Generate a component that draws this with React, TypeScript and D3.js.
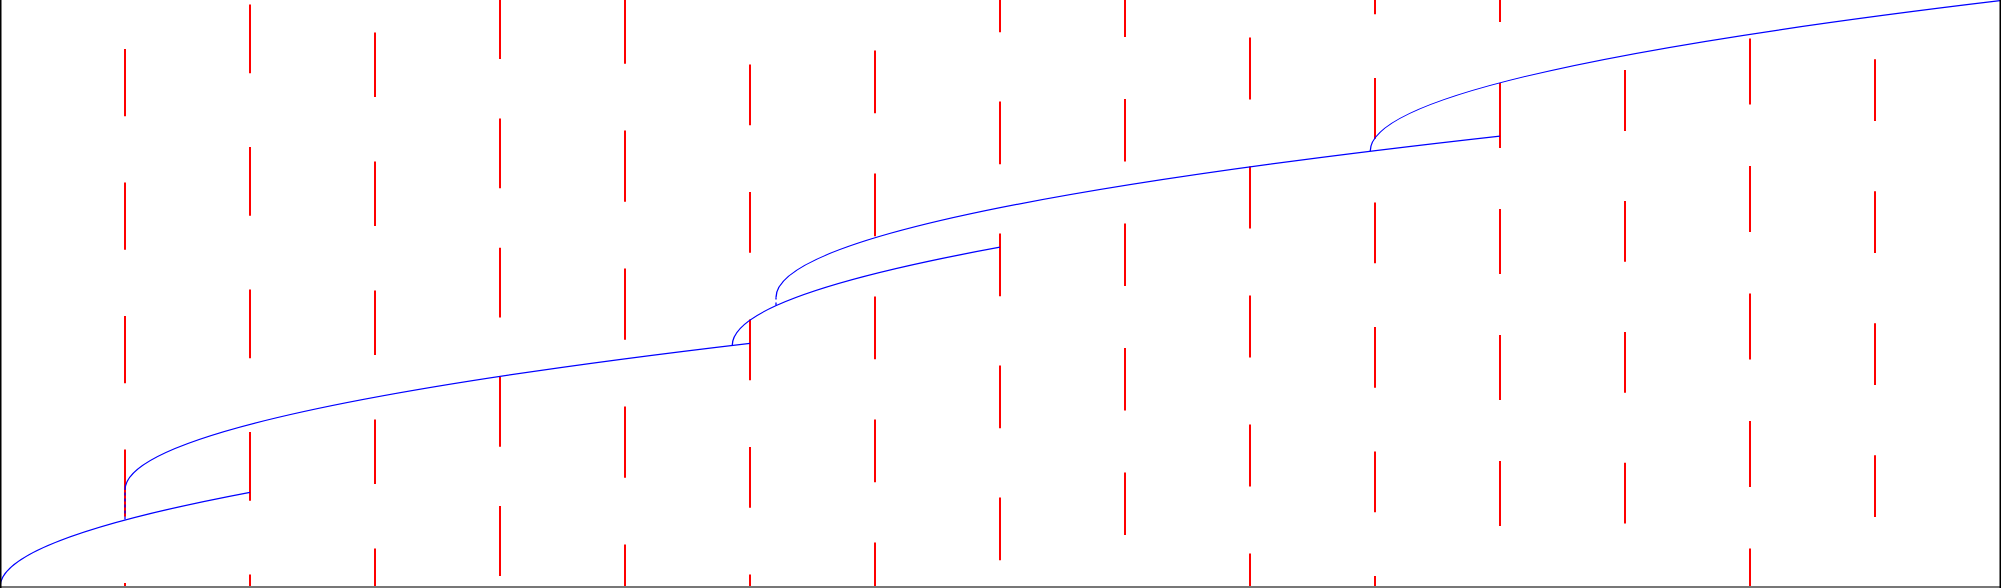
import React from "react";
import * as d3 from "d3";

// Rain columns (x in column units), dash length, gap length, top of first full dash (px from top)
const RAIN_X = [1, 2, 3, 4, 5, 6, 7, 8, 9, 10, 11, 12, 13, 14, 15];
const RAIN_DASH = [67.2, 68.8, 64.5, 69.8, 71.3, 60.8, 62.7, 62.7, 62.6, 62.0, 60.7, 65.0, 60.8, 65.8, 61.6];
const RAIN_GAP = [66.3, 73.7, 64.5, 59.4, 66.7, 66.7, 60.3, 69.3, 61.9, 67.0, 63.8, 61.0, 70.1, 61.7, 70.4];
const RAIN_START = [49.1, 4.5, 32.6, 118.5, 130.5, 64.5, 50.6, 101.6, 99.0, 37.5, 78.0, 82.9, 70.1, 38.6, 59.3];

// Branch curves: start x, branch value (on parent), start value, end x, end value
const BRANCH_X0 = [0, 1, 5.858, 6.208, 10.962];
const BRANCH_FROM = [0, 67.5, 241.7, 281.5, 435.9];
const BRANCH_Y0 = [0, 97, 241.7, 289.5, 435.9];
const BRANCH_X1 = [2, 6, 8, 12, 16];
const BRANCH_Y1 = [94.7, 243.7, 339.8, 450.9, 586.3];

const W = 2001;
const H = 588;

export default function App() {
  const x = d3.scaleLinear().domain([0, 16]).range([0, 2000]);
  const y = d3.scaleLinear().domain([0, 587]).range([587, 0]);
  const len = (v: number) => Math.abs(y(v) - y(0));

  const branches = BRANCH_X0.map((x0, i) => {
    const sx = x(x0);
    const sy = y(BRANCH_Y0[i]);
    const ex = x(BRANCH_X1[i]);
    const ey = y(BRANCH_Y1[i]);
    const p = d3.path();
    p.moveTo(sx, sy);
    p.quadraticCurveTo(sx, (sy + ey) / 2, ex, ey);
    const c = d3.path();
    c.moveTo(sx, y(BRANCH_FROM[i]));
    c.lineTo(sx, sy);
    return { d: p.toString(), c: c.toString(), hasConn: BRANCH_Y0[i] - BRANCH_FROM[i] > 0.5 };
  });

  return (
    <svg
      width={W}
      height={H}
      style={{ position: "absolute", left: 0, top: 0, background: "#fff" }}
    >
      <rect x={0} y={0} width={W} height={H} fill="#fff" />
      {RAIN_X.map((cx, i) => {
        const dash = len(RAIN_DASH[i]);
        const gap = len(RAIN_GAP[i]);
        const period = dash + gap;
        const start = len(RAIN_START[i]);
        const offset = ((period - (start % period)) % period + period) % period;
        return (
          <line
            key={"r" + i}
            x1={x(cx)}
            x2={x(cx)}
            y1={0}
            y2={H}
            stroke="#ff0000"
            strokeWidth={2}
            strokeDasharray={`${dash},${gap}`}
            strokeDashoffset={offset}
          />
        );
      })}
      {branches.map((b, i) => (
        <g key={"b" + i}>
          {b.hasConn && (
            <path d={b.c} fill="none" stroke="#0000ff" strokeWidth={1.3} strokeDasharray="3,3" />
          )}
          <path d={b.d} fill="none" stroke="#0000ff" strokeWidth={1.3} />
        </g>
      ))}
      <line x1={0} x2={W} y1={587} y2={587} stroke="#777" strokeWidth={2} />
      <line x1={0.75} x2={0.75} y1={0} y2={H} stroke="#000" strokeWidth={1.5} />
      <line x1={2000.25} x2={2000.25} y1={0} y2={H} stroke="#000" strokeWidth={1.5} />
    </svg>
  );
}
